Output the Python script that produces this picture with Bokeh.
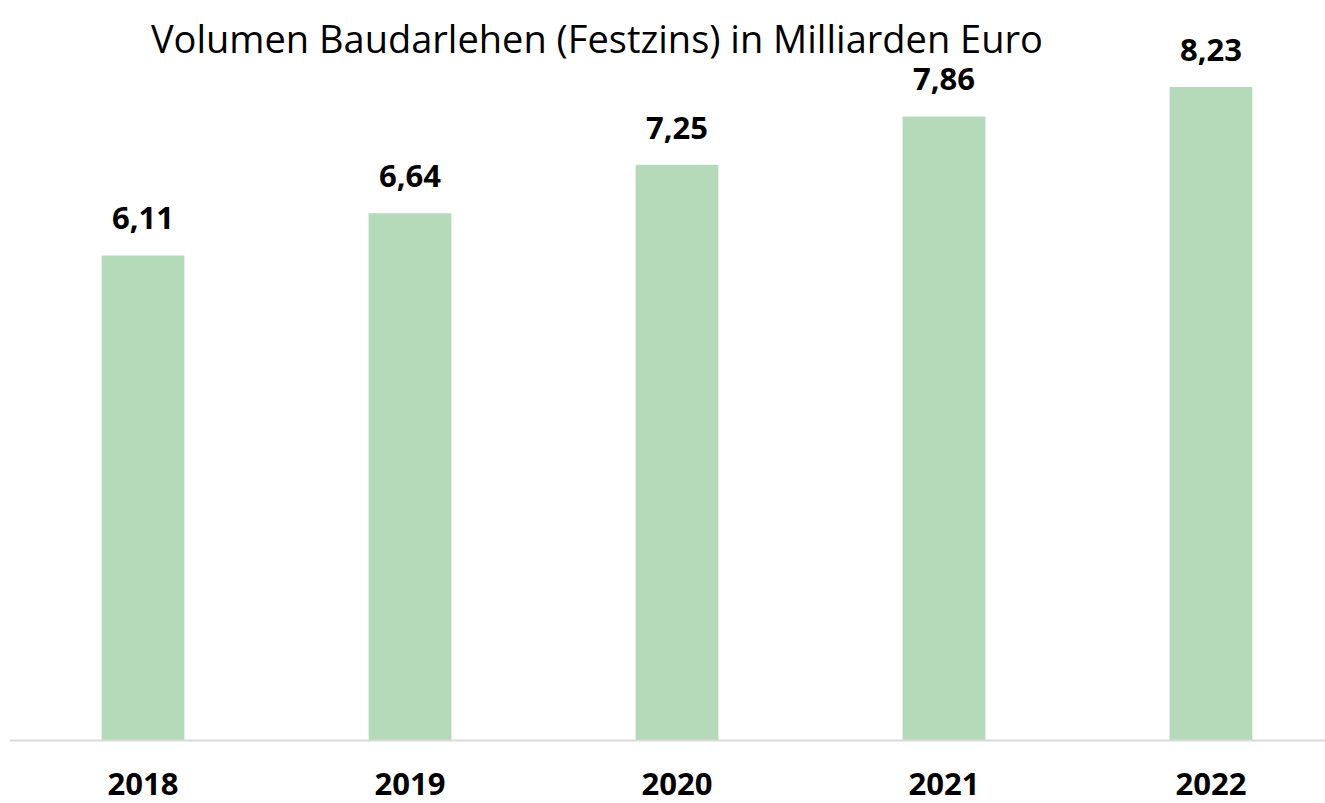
from bokeh.plotting import figure
from bokeh.models import ColumnDataSource, LabelSet, Label, Range1d, Span
from bokeh.core.properties import value
from bokeh.embed import file_html
from bokeh.resources import INLINE

title_text = "Volumen Baudarlehen (Festzins) in Milliarden Euro"
years = ["2018", "2019", "2020", "2021", "2022"]
values = [6.11, 6.64, 7.25, 7.86, 8.23]

xs = list(range(len(years)))
labels = [f"{v:.2f}".replace(".", ",") for v in values]
source = ColumnDataSource(dict(x=xs, top=values, label=labels,
                               zero=[0] * len(xs), year=years))

p = figure(width=1325, height=803, output_backend="svg", toolbar_location=None,
           x_range=Range1d(-0.5, 4.429), y_range=Range1d(-0.793, 9.32),
           x_axis_location=None, y_axis_location=None,
           min_border_left=9, min_border_right=0,
           min_border_top=0, min_border_bottom=0)
p.outline_line_color = None
p.grid.visible = False
p.background_fill_color = "white"
p.border_fill_color = "white"

p.vbar(x="x", top="top", bottom=0, width=0.31, source=source,
       fill_color="#b4dab9", line_color=None)

p.add_layout(Span(location=0, dimension="width", line_color="#d9d9d9", line_width=2))

p.add_layout(LabelSet(x="x", y="top", text="label", source=source,
                      y_offset=26, text_align="center", text_baseline="alphabetic",
                      text_font=value("Open Sans"), text_font_style="bold",
                      text_font_size="31px", text_color="black"))

p.add_layout(LabelSet(x="x", y="zero", text="year", source=source,
                      y_offset=-54, text_align="center", text_baseline="alphabetic",
                      text_font=value("Open Sans"), text_font_style="bold",
                      text_font_size="31px", text_color="black"))

p.add_layout(Label(x=1.700, y=8.854, text=title_text,
                   text_align="center", text_baseline="alphabetic",
                   text_font="Open Sans", text_font_size="38px", text_color="black"))

open("out.html", "w").write(file_html(p, INLINE))
